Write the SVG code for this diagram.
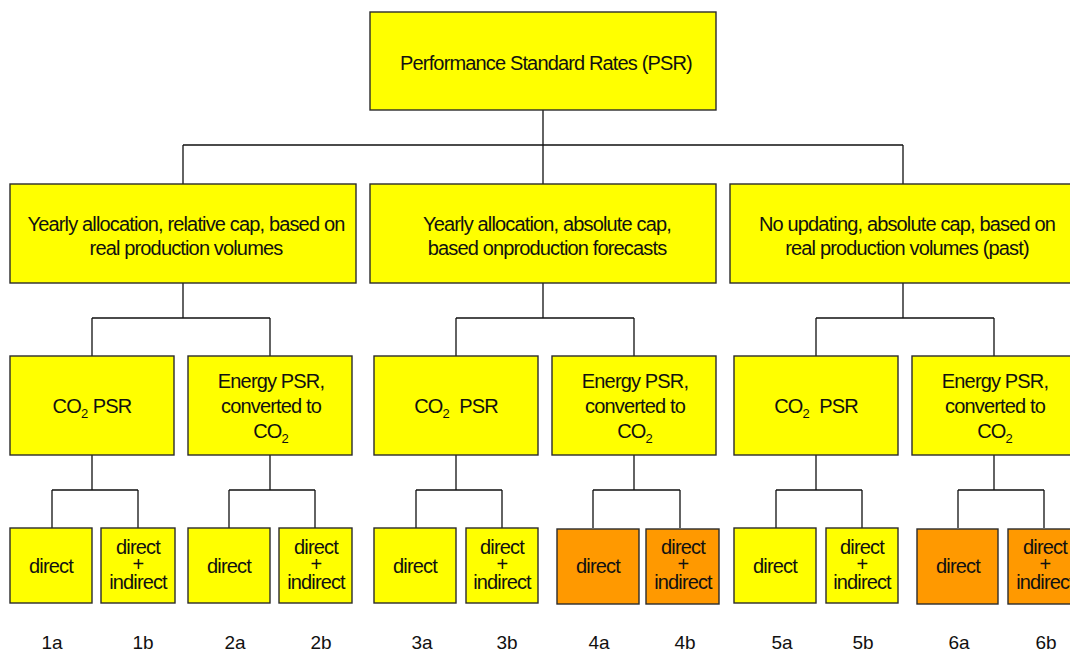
<svg xmlns="http://www.w3.org/2000/svg" width="1070" height="651" viewBox="0 0 1070 651">
  <style>
    .box { stroke: #2b2b2b; stroke-width: 1.4; }
    .yel { fill: #ffff00; }
    .org { fill: #ff9900; }
    .t { font-family: "Liberation Sans", Arial, sans-serif; font-size: 20px; letter-spacing: -0.85px; fill: #111; text-anchor: middle; }
    .sub { font-size: 13px; letter-spacing: 0; }
    .lbl { font-family: "Liberation Sans", Arial, sans-serif; font-size: 19px; fill: #111; text-anchor: middle; }
    .wire { fill: none; stroke: #111; stroke-width: 1.3; }
  </style>

  <!-- tree connectors -->
  <g id="connectors" class="wire">
    <path d="M543 110V145M183 145H903M183 145V184M543 145V184M903 145V184"/>
    <path d="M183 283V318M92 318H270M92 318V356M270 318V356"/>
    <path d="M543 283V318M456 318H634M456 318V356M634 318V356"/>
    <path d="M903 283V318M816 318H994M816 318V356M994 318V356"/>
    <path d="M92 455V490M52 490H138M52 490V528M138 490V528"/>
    <path d="M270 455V490M229 490H315M229 490V528M315 490V528"/>
    <path d="M456 455V490M416 490H502M416 490V528M502 490V528"/>
    <path d="M634 455V490M593 490H680M593 490V528M680 490V528"/>
    <path d="M816 455V490M776 490H862M776 490V528M862 490V528"/>
    <path d="M994 455V490M958 490H1044M958 490V528M1044 490V528"/>
  </g>

  <!-- root -->
  <g id="root">
    <rect class="box yel" x="370" y="12" width="346" height="98"/>
    <text class="t" x="546" y="70">Performance Standard Rates (PSR)</text>
  </g>

  <!-- allocation approaches -->
  <g id="alloc-relative">
    <rect class="box yel" x="10" y="184" width="346" height="99"/>
    <text class="t" x="186" y="231">Yearly allocation, relative cap, based on</text>
    <text class="t" x="186" y="255">real production volumes</text>
  </g>
  <g id="alloc-forecast">
    <rect class="box yel" x="370" y="184" width="346" height="99"/>
    <text class="t" x="547" y="231">Yearly allocation, absolute cap,</text>
    <text class="t" x="547" y="255">based onproduction forecasts</text>
  </g>
  <g id="alloc-past">
    <rect class="box yel" x="730" y="184" width="346" height="99"/>
    <text class="t" x="907" y="231">No updating, absolute cap, based on</text>
    <text class="t" x="907" y="255">real production volumes (past)</text>
  </g>

  <!-- PSR types -->
  <g id="psr-1">
    <rect class="box yel" x="10" y="356" width="164" height="99"/>
    <text class="t" x="92" y="413">CO<tspan class="sub" dy="5">2</tspan><tspan dy="-5"> PSR</tspan></text>
  </g>
  <g id="psr-2">
    <rect class="box yel" x="188" y="356" width="164" height="99"/>
    <text class="t" x="271" y="388">Energy PSR,</text>
    <text class="t" x="271" y="413">converted to</text>
    <text class="t" x="271" y="438">CO<tspan class="sub" dy="5">2</tspan></text>
  </g>
  <g id="psr-3">
    <rect class="box yel" x="374" y="356" width="164" height="99"/>
    <text class="t" x="456" y="413" xml:space="preserve">CO<tspan class="sub" dy="5">2</tspan><tspan dy="-5">  PSR</tspan></text>
  </g>
  <g id="psr-4">
    <rect class="box yel" x="552" y="356" width="164" height="99"/>
    <text class="t" x="635" y="388">Energy PSR,</text>
    <text class="t" x="635" y="413">converted to</text>
    <text class="t" x="635" y="438">CO<tspan class="sub" dy="5">2</tspan></text>
  </g>
  <g id="psr-5">
    <rect class="box yel" x="734" y="356" width="164" height="99"/>
    <text class="t" x="816" y="413" xml:space="preserve">CO<tspan class="sub" dy="5">2</tspan><tspan dy="-5">  PSR</tspan></text>
  </g>
  <g id="psr-6">
    <rect class="box yel" x="912" y="356" width="164" height="99"/>
    <text class="t" x="995" y="388">Energy PSR,</text>
    <text class="t" x="995" y="413">converted to</text>
    <text class="t" x="995" y="438">CO<tspan class="sub" dy="5">2</tspan></text>
  </g>

  <!-- emission scopes -->
  <g id="v1a">
    <rect class="box yel" x="10" y="528" width="82" height="75"/>
    <text class="t" x="51" y="573">direct</text>
  </g>
  <g id="v1b">
    <rect class="box yel" x="101" y="528" width="74" height="75"/>
    <text class="t" x="138" y="554">direct</text>
    <text class="t" x="138" y="571">+</text>
    <text class="t" x="138" y="589">indirect</text>
  </g>
  <g id="v2a">
    <rect class="box yel" x="188" y="528" width="82" height="75"/>
    <text class="t" x="229" y="573">direct</text>
  </g>
  <g id="v2b">
    <rect class="box yel" x="279" y="528" width="73" height="75"/>
    <text class="t" x="316" y="554">direct</text>
    <text class="t" x="316" y="571">+</text>
    <text class="t" x="316" y="589">indirect</text>
  </g>
  <g id="v3a">
    <rect class="box yel" x="374" y="528" width="82" height="75"/>
    <text class="t" x="415" y="573">direct</text>
  </g>
  <g id="v3b">
    <rect class="box yel" x="466" y="528" width="72" height="75"/>
    <text class="t" x="502" y="554">direct</text>
    <text class="t" x="502" y="571">+</text>
    <text class="t" x="502" y="589">indirect</text>
  </g>
  <g id="v4a">
    <rect class="box org" x="557" y="529" width="82" height="75"/>
    <text class="t" x="598" y="573">direct</text>
  </g>
  <g id="v4b">
    <rect class="box org" x="646" y="529" width="73" height="75"/>
    <text class="t" x="683" y="554">direct</text>
    <text class="t" x="683" y="571">+</text>
    <text class="t" x="683" y="589">indirect</text>
  </g>
  <g id="v5a">
    <rect class="box yel" x="734" y="528" width="82" height="75"/>
    <text class="t" x="775" y="573">direct</text>
  </g>
  <g id="v5b">
    <rect class="box yel" x="826" y="528" width="72" height="75"/>
    <text class="t" x="862" y="554">direct</text>
    <text class="t" x="862" y="571">+</text>
    <text class="t" x="862" y="589">indirect</text>
  </g>
  <g id="v6a">
    <rect class="box org" x="917" y="529" width="81" height="75"/>
    <text class="t" x="958" y="573">direct</text>
  </g>
  <g id="v6b">
    <rect class="box org" x="1008" y="529" width="74" height="75"/>
    <text class="t" x="1045" y="554">direct</text>
    <text class="t" x="1045" y="571">+</text>
    <text class="t" x="1045" y="589">indirect</text>
  </g>

  <!-- variant numbers -->
  <g id="labels" class="lbl">
    <text x="52" y="649">1a</text>
    <text x="143" y="649">1b</text>
    <text x="235" y="649">2a</text>
    <text x="321" y="649">2b</text>
    <text x="422" y="649">3a</text>
    <text x="507" y="649">3b</text>
    <text x="599" y="649">4a</text>
    <text x="685" y="649">4b</text>
    <text x="782" y="649">5a</text>
    <text x="863" y="649">5b</text>
    <text x="959" y="649">6a</text>
    <text x="1046" y="649">6b</text>
  </g>
</svg>
